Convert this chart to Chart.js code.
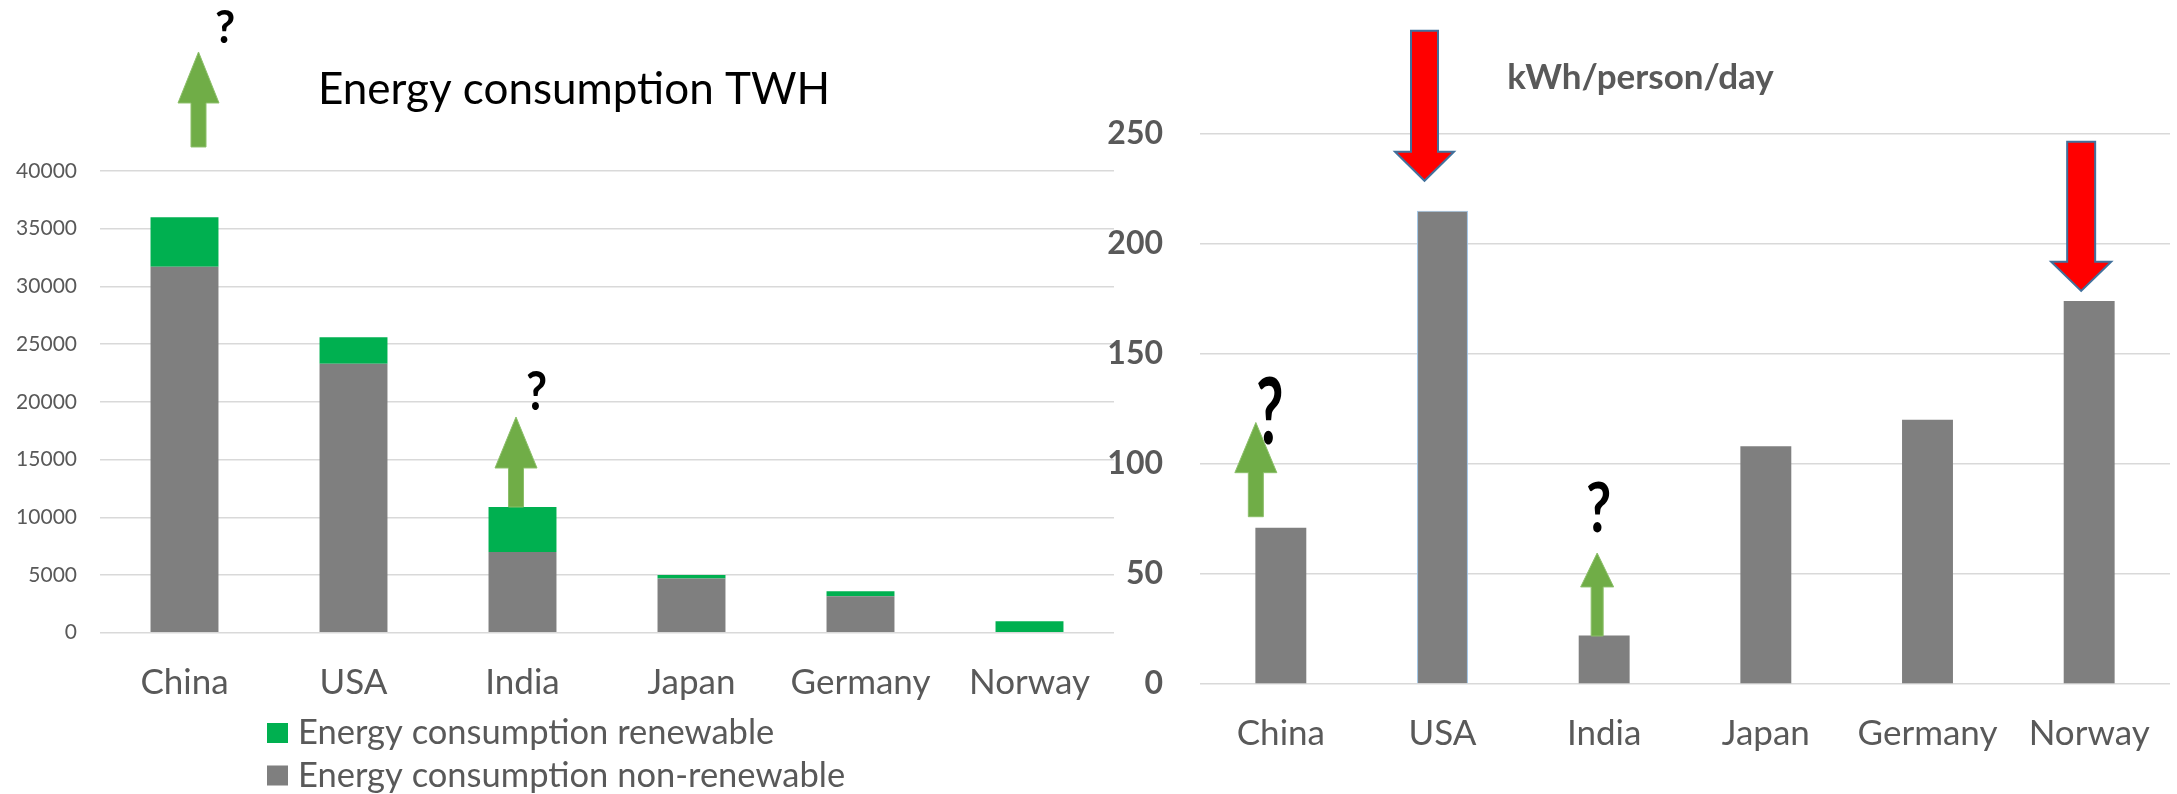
<!DOCTYPE html>
<html>
<head>
<meta charset="utf-8">
<title>Energy consumption</title>
<script src="https://cdn.jsdelivr.net/npm/chart.js@4.4.0/dist/chart.umd.min.js"></script>
<style>
  html, body { margin: 0; padding: 0; background: #ffffff; }
  #wrap { position: relative; width: 2177px; height: 794px; overflow: hidden; }
  #leftBox { position: absolute; left: 0; top: 0; width: 1130px; height: 794px; }
  #rightBox { position: absolute; left: 1090px; top: 0; width: 1087px; height: 794px; }
</style>
</head>
<body>
<div id="wrap">
  <div id="leftBox"><canvas id="twhChart"></canvas></div>
  <div id="rightBox"><canvas id="perPersonChart"></canvas></div>
</div>
<script>
// Chart data
const countries = ['China', 'USA', 'India', 'Japan', 'Germany', 'Norway'];
const twhNonRenewable = [31700, 23300, 7000, 4700, 3150, 0];
const twhRenewable = [4300, 2300, 3900, 300, 450, 1000];
const twhTicks = [0, 5000, 10000, 15000, 20000, 25000, 30000, 35000, 40000];
const kwhPerPersonDay = [71, 215, 22, 108, 120, 174];
const kwhTicks = [0, 50, 100, 150, 200, 250];

const GREY = '#7f7f7f';
const GREEN = '#00b050';
const TEXT = '#595959';
const GRID = '#d9d9d9';

Chart.defaults.font.family = 'Lato';

// Nudges the title sideways after layout (the title is not centred on the canvas)
const titleShiftPlugin = {
    id: 'titleShift',
    afterLayout(chart, args, opts) {
        const t = chart.titleBlock;
        if (t && opts.dx) {
            t.left += opts.dx;
            t.right += opts.dx;
        }
    }
};

// Draws the block arrows and question marks, anchored to the chart's scales
const calloutPlugin = {
    id: 'callouts',
    afterDraw(chart, args, opts) {
        const ctx = chart.ctx;
        const x = chart.scales.x;
        const y = chart.scales.y;
        ctx.save();
        (opts.arrows || []).forEach(a => {
            const cx = x.getPixelForValue(a.index) + a.dx;
            const yTail = y.getPixelForValue(a.tail);
            const yBase = y.getPixelForValue(a.headBase);
            const yTip = y.getPixelForValue(a.tip);
            const s = a.shaft / 2, h = a.head / 2;
            ctx.beginPath();
            ctx.moveTo(cx - s, yTail);
            ctx.lineTo(cx - s, yBase);
            ctx.lineTo(cx - h, yBase);
            ctx.lineTo(cx, yTip);
            ctx.lineTo(cx + h, yBase);
            ctx.lineTo(cx + s, yBase);
            ctx.lineTo(cx + s, yTail);
            ctx.closePath();
            ctx.fillStyle = a.fill;
            ctx.fill();
            if (a.stroke) {
                ctx.strokeStyle = a.stroke;
                ctx.lineWidth = a.strokeWidth;
                ctx.lineJoin = 'miter';
                ctx.stroke();
            }
        });
        (opts.marks || []).forEach(m => {
            const px = x.getPixelForValue(m.index) + m.dx;
            const py = y.getPixelForValue(m.value);
            ctx.save();
            ctx.translate(px, py);
            ctx.scale(1, m.stretch);
            ctx.font = 'bold ' + m.size + 'px Lato';
            ctx.fillStyle = '#000000';
            ctx.textAlign = 'center';
            ctx.textBaseline = 'alphabetic';
            ctx.fillText('?', 0, m.size * 0.358);
            ctx.restore();
        });
        ctx.restore();
    }
};

// Excel style legend: one item per row, stacked series listed top first
const stackLegendPlugin = {
    id: 'stackLegend',
    afterDraw(chart, args, opts) {
        if (!opts.display) return;
        const ctx = chart.ctx;
        const sets = chart.data.datasets.slice().reverse();
        ctx.save();
        ctx.font = opts.size + 'px Lato';
        ctx.textBaseline = 'middle';
        ctx.textAlign = 'left';
        sets.forEach((ds, i) => {
            const cy = opts.top + i * opts.rowGap;
            ctx.fillStyle = ds.backgroundColor;
            ctx.fillRect(opts.left, cy - opts.boxH / 2, opts.boxW, opts.boxH);
            ctx.fillStyle = opts.color;
            ctx.fillText(ds.label, opts.left + opts.boxW + opts.gap, cy);
        });
        ctx.restore();
    }
};

// Left chart: stacked energy consumption
const twhCanvas = document.getElementById('twhChart');
if (twhCanvas) {
    new Chart(twhCanvas, {
        type: 'bar',
        data: {
            labels: countries,
            datasets: [{
                label: 'Energy consumption non-renewable',
                data: twhNonRenewable,
                backgroundColor: GREY,
                categoryPercentage: 1,
                barPercentage: 0.402
            }, {
                label: 'Energy consumption renewable',
                data: twhRenewable,
                backgroundColor: GREEN,
                categoryPercentage: 1,
                barPercentage: 0.402
            }]
        },
        options: {
            responsive: true,
            maintainAspectRatio: false,
            animation: false,
            layout: { padding: { left: 0, right: 16, top: 0, bottom: 0 } },
            scales: {
                x: {
                    stacked: true,
                    grid: { display: false },
                    border: { display: false },
                    ticks: {
                        color: TEXT,
                        font: { size: 35 },
                        padding: 21,
                        maxRotation: 0,
                        autoSkip: false
                    },
                    afterFit: s => { s.height = 161.3; }
                },
                y: {
                    stacked: true,
                    min: 0,
                    max: 40000,
                    grid: { color: GRID, lineWidth: 1.5, drawTicks: false },
                    border: { display: false },
                    ticks: {
                        color: TEXT,
                        font: { size: 21 },
                        padding: 23,
                        callback: v => String(v)
                    },
                    afterBuildTicks: s => { s.ticks = twhTicks.map(v => ({ value: v })); },
                    afterFit: s => { s.width = 100; }
                }
            },
            plugins: {
                legend: { display: false },
                tooltip: { enabled: false },
                title: {
                    display: true,
                    text: 'Energy consumption TWH',
                    color: '#000000',
                    font: { size: 44, weight: 'normal', lineHeight: 1.2 },
                    padding: { top: 63.6, bottom: 54.6 }
                },
                titleShift: { dx: 17 },
                stackLegend: {
                    display: true,
                    left: 267,
                    top: 733,
                    rowGap: 42.5,
                    boxW: 21,
                    boxH: 20,
                    gap: 10,
                    size: 34.5,
                    color: TEXT
                },
                callouts: {
                    arrows: [
                        { index: 0, dx: 14, tail: 42081, headBase: 45893, tip: 50312, shaft: 15, head: 41, fill: '#70ad47', stroke: '#8cbf6a', strokeWidth: 1 },
                        { index: 2, dx: -6.5, tail: 10890, headBase: 14270, tip: 18690, shaft: 15, head: 42, fill: '#70ad47', stroke: '#8cbf6a', strokeWidth: 1 }
                    ],
                    marks: [
                        { index: 0, dx: 40.5, value: 52565, size: 44, stretch: 1.05 },
                        { index: 2, dx: 14, value: 20940, size: 46, stretch: 1.17 }
                    ]
                }
            }
        },
        plugins: [titleShiftPlugin, stackLegendPlugin, calloutPlugin]
    });
}

// Right chart: kWh per person per day
const kwhCanvas = document.getElementById('perPersonChart');
if (kwhCanvas) {
    new Chart(kwhCanvas, {
        type: 'bar',
        data: {
            labels: countries,
            datasets: [{
                label: 'kWh/person/day',
                data: kwhPerPersonDay,
                backgroundColor: GREY,
                borderColor: ['rgba(0,0,0,0)', '#9dc3e6', 'rgba(0,0,0,0)', 'rgba(0,0,0,0)', 'rgba(0,0,0,0)', 'rgba(0,0,0,0)'],
                borderWidth: [0, 1, 0, 0, 0, 0],
                categoryPercentage: 1,
                barPercentage: 0.315
            }]
        },
        options: {
            responsive: true,
            maintainAspectRatio: false,
            animation: false,
            layout: { padding: { left: 0, right: 7, top: 0, bottom: 0 } },
            scales: {
                x: {
                    grid: { display: false },
                    border: { display: false },
                    ticks: {
                        color: TEXT,
                        font: { size: 35 },
                        padding: 21,
                        maxRotation: 0,
                        autoSkip: false
                    },
                    afterFit: s => { s.height = 110; }
                },
                y: {
                    min: 0,
                    max: 250,
                    grid: { color: GRID, lineWidth: 1.5, drawTicks: false },
                    border: { display: false },
                    ticks: {
                        color: TEXT,
                        font: { size: 32, weight: 'bold' },
                        padding: 37,
                        callback: v => String(v)
                    },
                    afterBuildTicks: s => { s.ticks = kwhTicks.map(v => ({ value: v })); },
                    afterFit: s => { s.width = 110; }
                }
            },
            plugins: {
                legend: { display: false },
                tooltip: { enabled: false },
                title: {
                    display: true,
                    text: 'kWh/person/day',
                    color: TEXT,
                    font: { size: 35, weight: 'bold', lineHeight: 1.2 },
                    padding: { top: 57, bottom: 34.7 }
                },
                titleShift: { dx: 10.5 },
                callouts: {
                    arrows: [
                        { index: 1, dx: -18, tail: 296.8, headBase: 241.8, tip: 228.6, shaft: 27, head: 59, fill: '#ff0000', stroke: '#41719c', strokeWidth: 2 },
                        { index: 5, dx: -8, tail: 246.3, headBase: 191.8, tip: 178.6, shaft: 28, head: 60, fill: '#ff0000', stroke: '#41719c', strokeWidth: 2 },
                        { index: 0, dx: -25, tail: 76.0, headBase: 96.0, tip: 118.8, shaft: 15, head: 42, fill: '#70ad47', stroke: '#8cbf6a', strokeWidth: 1 },
                        { index: 2, dx: -7, tail: 21.8, headBase: 44.1, tip: 59.5, shaft: 12, head: 33, fill: '#70ad47', stroke: '#8cbf6a', strokeWidth: 1 }
                    ],
                    marks: [
                        { index: 0, dx: -11, value: 124, size: 60, stretch: 1.53 },
                        { index: 2, dx: -5.5, value: 80.2, size: 55, stretch: 1.24 }
                    ]
                }
            }
        },
        plugins: [titleShiftPlugin, calloutPlugin]
    });
}
</script>
</body>
</html>
